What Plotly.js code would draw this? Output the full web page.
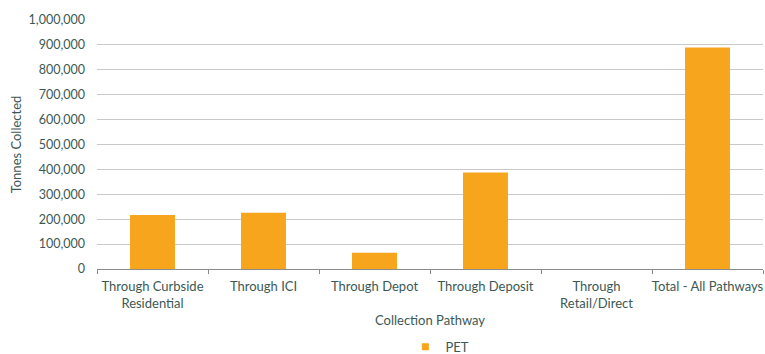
<!DOCTYPE html>
<html>
<head>
<meta charset="utf-8">
<script src="https://cdn.plot.ly/plotly-3.0.1.min.js"></script>
<style>
  html, body { margin: 0; padding: 0; background: #ffffff; }
  #chart { width: 765px; height: 354px; }
</style>
</head>
<body>
<div id="chart"></div>
<script>
// PET tonnes collected by collection pathway
const pathways = [
  'Through Curbside<br>Residential',
  'Through ICI',
  'Through Depot',
  'Through Deposit',
  'Through<br>Retail/Direct',
  'Total - All Pathways'
];
const petTonnes = [217000, 226000, 65000, 388000, 0, 890000];
const yTicks = [0, 100000, 200000, 300000, 400000, 500000, 600000, 700000, 800000, 900000, 1000000];
const seriesName = 'PET';

const textColor = '#3b5954';
const barColor = '#f7a51d';

const traces = [
  {
    type: 'bar',
    name: seriesName,
    x: pathways,
    y: petTonnes,
    marker: { color: barColor },
    showlegend: false,
    hoverinfo: 'x+y'
  },
  // small square key for the legend
  {
    type: 'scatter',
    mode: 'markers',
    name: seriesName,
    x: [null],
    y: [null],
    marker: { symbol: 'square', size: 7, color: barColor },
    showlegend: true
  }
];

const layout = {
  width: 765,
  height: 354,
  margin: { l: 97, r: 2, t: 20, b: 84.5 },
  paper_bgcolor: '#ffffff',
  plot_bgcolor: '#ffffff',
  font: { family: 'Lato, "Open Sans", sans-serif', size: 13, color: textColor },
  bargap: 0.595,
  showlegend: true,
  legend: {
    orientation: 'h',
    xref: 'container',
    yref: 'container',
    x: 0.575, xanchor: 'center',
    y: 0.02, yanchor: 'middle',
    itemwidth: 30,
    font: { size: 13, color: textColor }
  },
  xaxis: {
    automargin: false,
    showline: true,
    linecolor: '#8c8c8c',
    linewidth: 1,
    ticks: 'outside',
    tickson: 'boundaries',
    ticklen: 4,
    tickcolor: '#8c8c8c',
    showgrid: false,
    tickangle: 0,
    ticklabelstandoff: 5,
    tickfont: { size: 13, color: textColor },
    title: { text: 'Collection Pathway', font: { size: 13, color: textColor }, standoff: 6 }
  },
  yaxis: {
    automargin: false,
    range: [0, 1000000],
    tickvals: yTicks,
    tickformat: ',d',
    showgrid: true,
    gridcolor: '#c9c9c9',
    gridwidth: 1,
    zeroline: false,
    showline: false,
    ticks: '',
    ticklabelstandoff: 11,
    tickfont: { size: 12.5, color: textColor },
    title: { text: 'Tonnes Collected', font: { size: 13, color: textColor }, standoff: 4 }
  }
};

Plotly.newPlot('chart', traces, layout, { displayModeBar: false, staticPlot: true });
</script>
</body>
</html>
